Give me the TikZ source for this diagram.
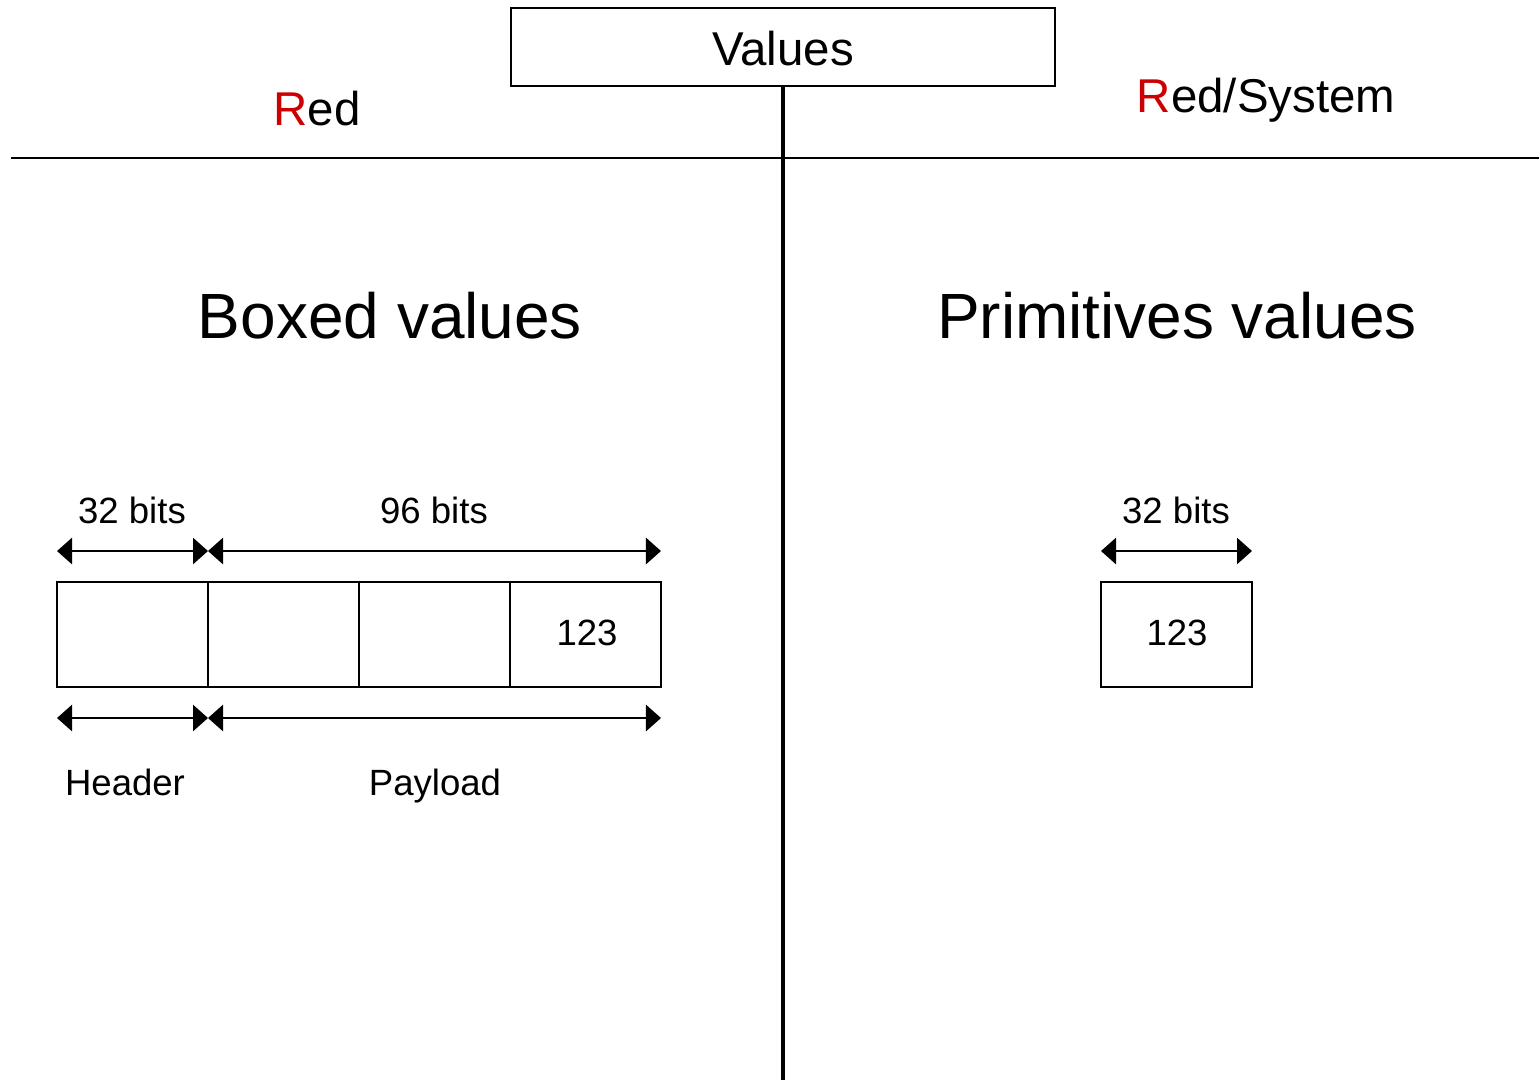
\documentclass[tikz,border=0pt]{standalone}
\usepackage{fontspec}
\setmainfont{Liberation Sans}
\usepackage{xcolor}
\usetikzlibrary{arrows.meta, positioning}

\definecolor{redlang}{RGB}{204,0,0}

\begin{document}
\begin{tikzpicture}[
  x=0.1mm, y=-0.1mm,
  cell/.style={draw, line width=0.6pt, minimum width=15.1mm, minimum height=10.5mm, inner sep=0pt, outer sep=0pt},
  dim/.style={{Triangle[length=1.5mm, width=2.6mm]}-{Triangle[length=1.5mm, width=2.6mm]}, line width=0.8pt},
  lbl/.style={font=\fontsize{10.4}{12}\selectfont, inner sep=0pt, anchor=base},
  side/.style={font=\fontsize{13.5}{16}\selectfont, inner sep=0pt, anchor=base},
  title/.style={font=\fontsize{18.2}{22}\selectfont, inner sep=0pt, anchor=base}
]
\useasboundingbox (0,0) rectangle (1539,1080);

% header
\node[draw, line width=0.6pt, minimum width=54.4mm, minimum height=7.8mm, inner sep=0pt] (val) at (783,47) {};
\node[side] (valtxt) at (783,65) {Values};
\coordinate (split) at (783,158);
\coordinate (bottom) at (783,1080);
\draw[line width=0.6pt] (11,158) -- (split) -- (1539,158);
\draw[line width=0.9pt] (val.south) -- (bottom);
\node[side] (red) at (317,125) {\textcolor{redlang}{R}ed};
\node[side] (redsys) at (1266,112) {\textcolor{redlang}{R}ed/System};

% titles
\node[title] (boxed) at (390,338) {Boxed values};
\node[title] (prim) at (1177,338) {Primitives values};

% boxed value cells
\node[cell] (b1) at (132.5,634.5) {};
\node[cell, right=0pt of b1] (b2) {};
\node[cell, right=0pt of b2] (b3) {};
\node[cell, right=0pt of b3] (b4) {};

% primitive value cell
\node[cell] (p1) at (1176.5,634.5) {};

\node[lbl] (n1) at (587,645) {123};
\node[lbl] (n2) at (1177,645) {123};

% dimensions
\draw[dim] ([yshift=3.1mm]b1.north west) -- ([yshift=3.1mm]b1.north east);
\draw[dim] ([yshift=3.1mm]b2.north west) -- ([yshift=3.1mm]b4.north east);
\draw[dim] ([yshift=-3.1mm]b1.south west) -- ([yshift=-3.1mm]b1.south east);
\draw[dim] ([yshift=-3.1mm]b2.south west) -- ([yshift=-3.1mm]b4.south east);
\draw[dim] ([yshift=3.1mm]p1.north west) -- ([yshift=3.1mm]p1.north east);

\node[lbl] (hbits) at (132,523) {32 bits};
\node[lbl] (pbits) at (434,523) {96 bits};
\node[lbl] (sbits) at (1176,523) {32 bits};
\node[lbl] (hdr) at (125,795) {Header};
\node[lbl] (pay) at (435,795) {Payload};
\end{tikzpicture}
\end{document}
